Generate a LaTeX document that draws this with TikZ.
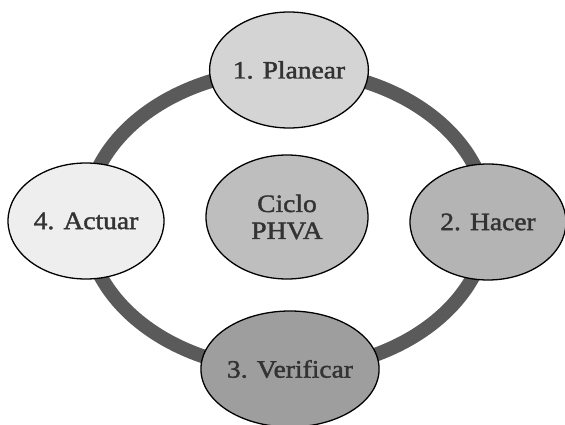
\documentclass[tikz,border=0pt]{standalone}
\usepackage{fontspec}
\setmainfont{Liberation Serif}[FakeStretch=1.1,FakeBold=1.6]
\usetikzlibrary{shapes.geometric}
\definecolor{ringgray}{HTML}{5A5A5A}
\definecolor{fillP}{HTML}{D4D4D4}
\definecolor{fillH}{HTML}{B4B4B4}
\definecolor{fillV}{HTML}{9E9E9E}
\definecolor{fillA}{HTML}{EEEEEE}
\definecolor{fillC}{HTML}{BEBEBE}
\definecolor{txt}{HTML}{333333}
\begin{document}
\begin{tikzpicture}[x=1pt,y=-1pt,
  phase/.style={ellipse, draw=black, line width=1.3pt, minimum width=156pt,
    minimum height=116pt, inner sep=0pt, text=txt, align=center,
    font=\fontsize{25}{27}\selectfont},
  ring/.style={draw=ringgray, line width=14pt}]
\useasboundingbox (0,0) rectangle (565,425);
\fill[white] (0,0) rectangle (565,425);
\coordinate (o) at (287,220);
\draw[ring] (o) ellipse [x radius=201pt, y radius=150pt];
\node[phase, fill=fillP] (p) at (289,70) {1. Planear};
\node[phase, fill=fillH] (h) at (488,222) {2. Hacer};
\node[phase, fill=fillV] (v) at (290,369) {3. Verificar};
\node[phase, fill=fillA] (a) at (86,221) {4. Actuar};
\node[phase, fill=fillC, minimum width=162pt, minimum height=124pt] (c) at (287,217) {Ciclo\\PHVA};
\end{tikzpicture}
\end{document}
